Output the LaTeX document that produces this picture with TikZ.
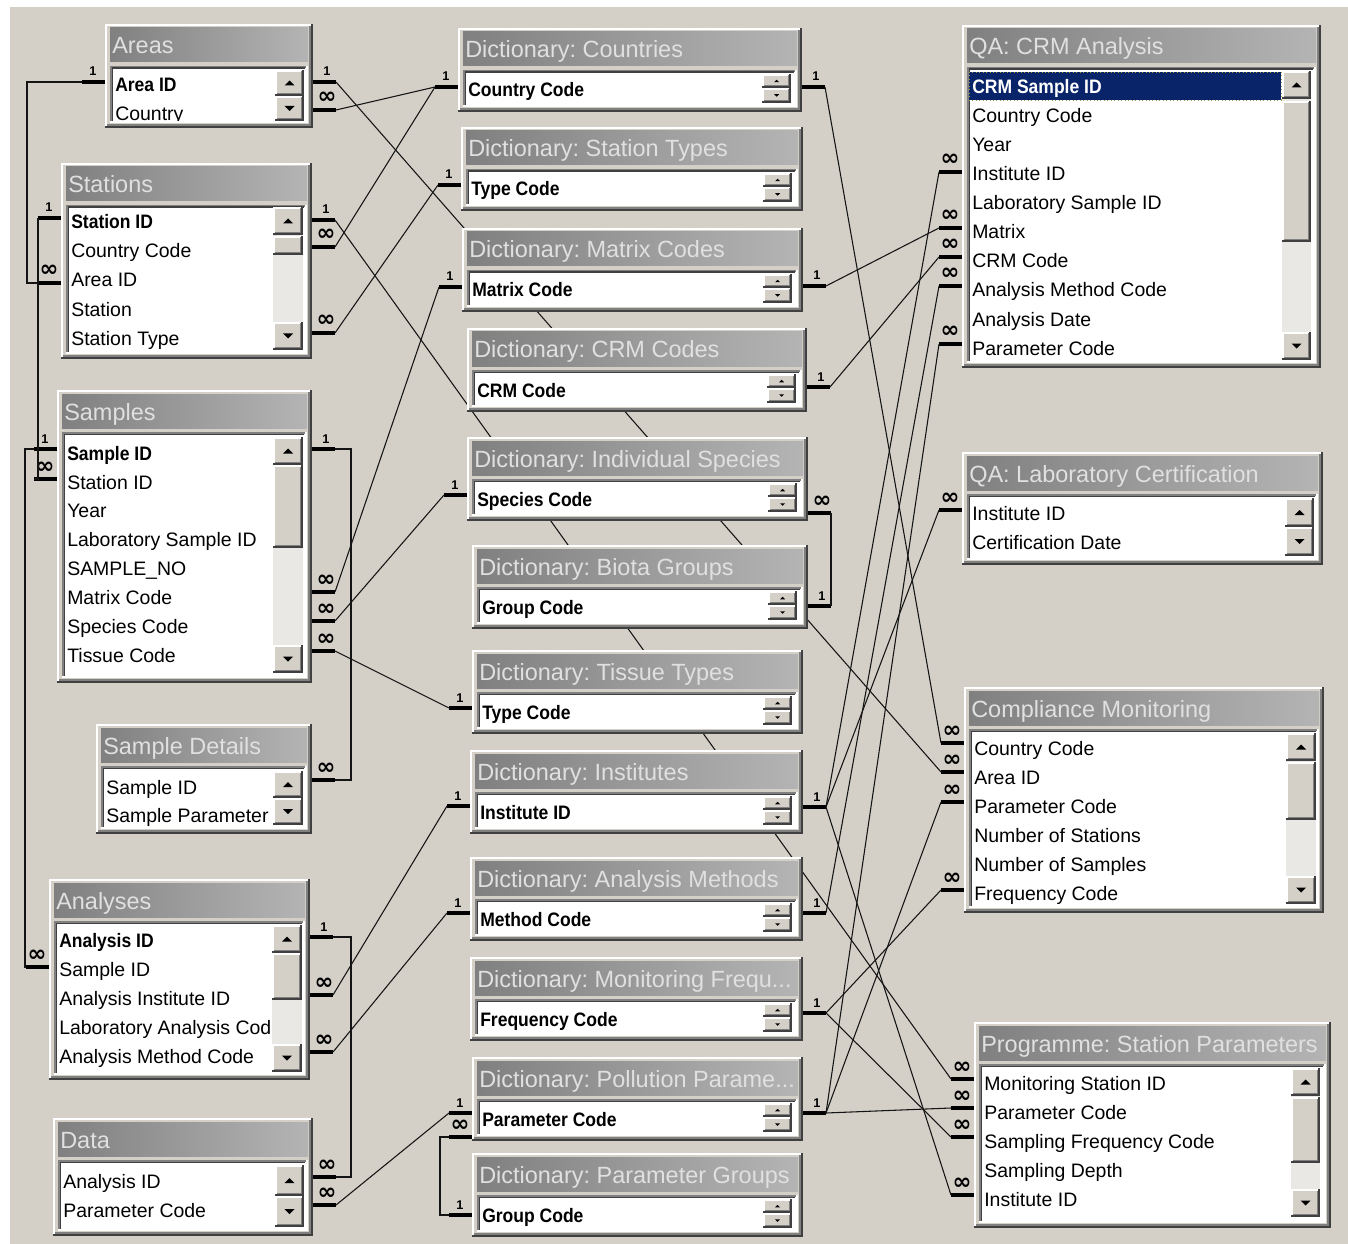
\documentclass[tikz,border=0pt]{standalone}
\usepackage{fontspec}
\setmainfont{Liberation Sans}
\newfontfamily\fbx[FakeStretch=0.9]{Liberation Sans}
\newfontfamily\symf{DejaVu Sans}
\frenchspacing
\definecolor{winbg}{RGB}{212,208,200}
\definecolor{trackc}{RGB}{234,232,228}
\definecolor{tbarL}{RGB}{128,128,128}
\definecolor{tbarR}{RGB}{180,180,180}
\definecolor{ttlc}{RGB}{224,224,224}
\definecolor{dk}{RGB}{64,64,64}
\definecolor{md}{RGB}{128,128,128}
\definecolor{navy}{RGB}{10,36,106}
\definecolor{linec}{RGB}{20,20,20}
\tikzset{
 fld/.style={anchor=base west, inner sep=0pt, font=\fontsize{14.6}{16}\selectfont},
 fldb/.style={anchor=base west, inner sep=0pt, font=\fbx\bfseries\fontsize{14.6}{16}\selectfont},
 ttl/.style={anchor=base west, inner sep=0pt, text=ttlc, font=\fontsize{17.6}{20}\selectfont},
 rel/.style={draw=linec, line width=0.8pt},
 stub/.style={draw=black, line width=2.6pt},
 one/.style={anchor=base, inner sep=0pt, font=\bfseries\fontsize{9.5}{10}\selectfont},
 many/.style={anchor=base, inner sep=0pt, font=\symf\bfseries\fontsize{17}{18}\selectfont},
}
% raised button
\newcommand\btn[4]{%
 \fill[winbg] ({#1},{#2}) rectangle ({#3},{#4});
 \draw[white,line width=1.2pt] ({#1+0.8},{#4-1}) -- ({#1+0.8},{#2+0.8}) -- ({#3-1},{#2+0.8});
 \draw[dk,line width=1.2pt] ({#1},{#4-0.8}) -- ({#3-0.8},{#4-0.8}) -- ({#3-0.8},{#2});
 \draw[md,line width=1.2pt] ({#1+1.5},{#4-2.4}) -- ({#3-2.4},{#4-2.4}) -- ({#3-2.4},{#2+1.5});
}
\newcommand\uparr[3]{\fill ({#1-#3},{#2+#3/2}) -- ({#1+#3},{#2+#3/2}) -- ({#1},{#2-#3/2}) -- cycle;}
\newcommand\dnarr[3]{\fill ({#1-#3},{#2-#3/2}) -- ({#1+#3},{#2-#3/2}) -- ({#1},{#2+#3/2}) -- cycle;}
% scrollbar with thumb: xl xr yt yb tt tb
\newcommand\sbar[6]{%
 \fill[trackc] ({#1},{#3}) rectangle ({#2},{#4});
 \btn{#1}{#3}{#2}{#3+28}\uparr{(#1+#2)/2}{#3+14}{5}
 \btn{#1}{#4-28}{#2}{#4}\dnarr{(#1+#2)/2}{#4-14}{5}
 \btn{#1}{#5}{#2}{#6}
}
% two-button scrollbar: xl xr yt ym yb
\newcommand\sbtwo[5]{%
 \btn{#1}{#3}{#2}{#4}\uparr{(#1+#2)/2}{(#3+#4)/2}{5}
 \btn{#1}{#4}{#2}{#5}\dnarr{(#1+#2)/2}{(#4+#5)/2}{5}
}
% table frame: name x0 y0 x1 y1 title
\newcommand\tframe[6]{%
 \fill[winbg] ({#2},{#3}) rectangle ({#4},{#5});
 \draw[white,line width=1.2pt] ({#2+0.8},{#5-1}) -- ({#2+0.8},{#3+0.8}) -- ({#4-1},{#3+0.8});
 \draw[dk,line width=1.5pt] ({#2},{#5-1}) -- ({#4-1},{#5-1}) -- ({#4-1},{#3});
 \draw[md,line width=1.2pt] ({#2+2},{#5-3}) -- ({#4-3},{#5-3}) -- ({#4-3},{#3+2});
 \shade[left color=tbarL,right color=tbarR] ({#2+5},{#3+4}) rectangle ({#4-5},{#3+38});
 \begin{scope}
  \clip ({#2+5},{#3+4}) rectangle ({#4-5},{#3+38});
  \node[ttl] (#1-t) at ({#2+7},{#3+30}) {#6};
 \end{scope}
 \fill[white] ({#2+5},{#3+42}) rectangle ({#4-7},{#5-6});
 \draw[md,line width=1.2pt] ({#2+5.8},{#5-6}) -- ({#2+5.8},{#3+42.8}) -- ({#4-7},{#3+42.8});
 \draw[dk,line width=1.2pt] ({#2+7.3},{#5-7}) -- ({#2+7.3},{#3+44.3}) -- ({#4-8},{#3+44.3});
 \draw[white,line width=1.2pt] ({#2+5},{#5-5.8}) -- ({#4-6.2},{#5-5.8}) -- ({#4-6.2},{#3+42});
}
\newcommand\lclip[4]{\clip ({#1+8},{#2+44}) rectangle ({#3-8},{#4-7});}
% dictionary table: name x0 y0 x1 title field
\newcommand\dict[6]{%
 \tframe{#1}{#2}{#3}{#4}{#3+84}{#5}
 \node[fldb] (#1-f) at ({#2+10},{#3+69}) {#6};
 \btn{#4-40}{#3+46}{#4-11}{#3+60}\uparr{#4-25.5}{#3+53}{2.5}
 \btn{#4-40}{#3+60}{#4-11}{#3+75}\dnarr{#4-25.5}{#3+67.5}{2.5}
}
% stubs: name x y labelstyle label
\newcommand\stR[5]{%
 \draw[stub] ({#2},{#3}) -- ({#2+23},{#3});
 \coordinate (#1) at ({#2+23},{#3});
 \node[#4] (#1-l) at ({#2+14},{#3-6}) {#5};
}
\newcommand\stL[5]{%
 \draw[stub] ({#2},{#3}) -- ({#2-23},{#3});
 \coordinate (#1) at ({#2-23},{#3});
 \node[#4] (#1-l) at ({#2-12},{#3-6}) {#5};
}
\begin{document}
\begin{tikzpicture}[x=0.75pt,y=-0.75pt]
\useasboundingbox (0,0) rectangle (1348,1244);
\fill[white] (0,0) rectangle (1348,1244);
\fill[winbg] (10,7) rectangle (1348,1244);

% ---------- stubs ----------
\stL{a-id-L}{105}{82}{one}{1}
\stR{a-id-R}{313}{82}{one}{1}
\stR{a-co-R}{313}{110}{many}{∞}
\stL{s-id-L}{61}{218}{one}{1}
\stL{s-ar-L}{61}{283}{many}{∞}
\stR{s-id-R}{312}{220}{one}{1}
\stR{s-co-R}{312}{247}{many}{∞}
\stR{s-ty-R}{312}{333}{many}{∞}
\stL{sa-id-L}{57}{449}{one}{1}
\stL{sa-st-L}{57}{479}{many}{∞}
\stR{sa-id-R}{312}{449}{one}{1}
\stR{sa-mx-R}{312}{592}{many}{∞}
\stR{sa-sp-R}{312}{621}{many}{∞}
\stR{sa-ti-R}{312}{651}{many}{∞}
\stR{sd-id-R}{312}{780}{many}{∞}
\stL{an-sid-L}{49}{967}{many}{∞}
\stR{an-id-R}{310}{937}{one}{1}
\stR{an-in-R}{310}{995}{many}{∞}
\stR{an-me-R}{310}{1052}{many}{∞}
\stR{da-id-R}{313}{1177}{many}{∞}
\stR{da-pa-R}{313}{1205}{many}{∞}

\stL{co-L}{458}{87}{one}{1}
\stL{st-L}{461}{185}{one}{1}
\stL{mx-L}{462}{287}{one}{1}
\stL{sp-L}{467}{495}{one}{1}
\stL{ti-L}{472}{708}{one}{1}
\stL{in-L}{470}{806}{one}{1}
\stL{me-L}{470}{913}{one}{1}
\stL{po-L1}{472}{1113}{one}{1}
\stL{po-L2}{472}{1137}{many}{∞}
\stL{gr-L}{472}{1215}{one}{1}
\stR{co-R}{802}{87}{one}{1}
\stR{mx-R}{803}{286}{one}{1}
\stR{cr-R}{807}{387}{one}{1}
\stR{sp-R}{808}{513}{many}{∞}
\stR{bi-R}{808}{606}{one}{1}
\stR{in-R}{803}{807}{one}{1}
\stR{me-R}{803}{913}{one}{1}
\stR{mf-R}{803}{1013}{one}{1}
\stR{po-R}{803}{1113}{one}{1}

\stL{qc-in-L}{962}{172}{many}{∞}
\stL{qc-mx-L}{962}{228}{many}{∞}
\stL{qc-cr-L}{962}{257}{many}{∞}
\stL{qc-me-L}{962}{286}{many}{∞}
\stL{qc-pa-L}{962}{344}{many}{∞}
\stL{ql-in-L}{962}{510}{many}{∞}
\stL{cm-co-L}{964}{743}{many}{∞}
\stL{cm-ar-L}{964}{772}{many}{∞}
\stL{cm-pa-L}{964}{802}{many}{∞}
\stL{cm-fr-L}{964}{890}{many}{∞}
\stL{pr-st-L}{974}{1079}{many}{∞}
\stL{pr-pa-L}{974}{1108}{many}{∞}
\stL{pr-fr-L}{974}{1137}{many}{∞}
\stL{pr-in-L}{974}{1195}{many}{∞}

% ---------- connectors ----------
\draw[rel] (a-id-L) -- ++(-55,0) |- (s-ar-L);
\draw[rel] (s-id-L) |- (sa-st-L);
\draw[rel] (sa-id-L) -- ++(-9,0) |- (an-sid-L);
\draw[rel] (sa-id-R) -- ++(16,0) |- (sd-id-R);
\draw[rel] (an-id-R) -- ++(18,0) |- (da-id-R);
\draw[rel] (po-L2) -- ++(-9,0) |- (gr-L);
\draw[rel] (sp-R) -- (bi-R);
\draw[rel] (a-id-R) -- (cm-ar-L);
\draw[rel] (a-co-R) -- (co-L);
\draw[rel] (s-id-R) -- (pr-st-L);
\draw[rel] (s-co-R) -- (co-L);
\draw[rel] (s-ty-R) -- (st-L);
\draw[rel] (sa-mx-R) -- (mx-L);
\draw[rel] (sa-sp-R) -- (sp-L);
\draw[rel] (sa-ti-R) -- (ti-L);
\draw[rel] (an-in-R) -- (in-L);
\draw[rel] (an-me-R) -- (me-L);
\draw[rel] (da-pa-R) -- (po-L1);
\draw[rel] (co-R) -- (cm-co-L);
\draw[rel] (mx-R) -- (qc-mx-L);
\draw[rel] (cr-R) -- (qc-cr-L);
\draw[rel] (in-R) -- (qc-in-L);
\draw[rel] (in-R) -- (ql-in-L);
\draw[rel] (in-R) -- (pr-in-L);
\draw[rel] (me-R) -- (qc-me-L);
\draw[rel] (mf-R) -- (cm-fr-L);
\draw[rel] (mf-R) -- (pr-fr-L);
\draw[rel] (po-R) -- (qc-pa-L);
\draw[rel] (po-R) -- (cm-pa-L);
\draw[rel] (po-R) -- (pr-pa-L);

% ---------- left column tables ----------
\tframe{areas}{105}{24}{313}{128}{Areas}
\begin{scope}\lclip{105}{24}{313}{128}
 \node[fldb] (areas-1) at (115,92) {Area ID};
 \node[fld] (areas-2) at (115,121) {Country};
\end{scope}
\sbtwo{275}{304}{70}{96}{121}

\tframe{stations}{61}{163}{312}{359}{Stations}
\begin{scope}\lclip{61}{163}{312}{359}
 \node[fldb] (stations-1) at (71,229) {Station ID};
 \node[fld] (stations-2) at (71,258) {Country Code};
 \node[fld] (stations-3) at (71,287) {Area ID};
 \node[fld] (stations-4) at (71,316) {Station};
 \node[fld] (stations-5) at (71,345) {Station Type};
\end{scope}
\sbar{273}{303}{207}{350}{236}{255}

\tframe{samples}{57}{390}{312}{683}{Samples}
\begin{scope}\lclip{57}{390}{312}{683}
 \node[fldb] (samples-1) at (67,460) {Sample ID};
 \node[fld] (samples-2) at (67,489) {Station ID};
 \node[fld] (samples-3) at (67,517) {Year};
 \node[fld] (samples-4) at (67,546) {Laboratory Sample ID};
 \node[fld] (samples-5) at (67,575) {SAMPLE\_NO};
 \node[fld] (samples-6) at (67,604) {Matrix Code};
 \node[fld] (samples-7) at (67,633) {Species Code};
 \node[fld] (samples-8) at (67,662) {Tissue Code};
\end{scope}
\sbar{273}{303}{437}{673}{465}{548}

\tframe{sdet}{96}{724}{312}{834}{Sample Details}
\begin{scope}\lclip{96}{724}{312}{834}
 \node[fld] (sdet-1) at (106,794) {Sample ID};
 \node[fld] (sdet-2) at (106,822) {Sample Parameter};
\end{scope}
\sbtwo{273}{303}{771}{798}{825}

\tframe{anal}{49}{879}{310}{1080}{Analyses}
\begin{scope}\lclip{49}{879}{310}{1080}
 \node[fldb] (anal-1) at (59,947) {Analysis ID};
 \node[fld] (anal-2) at (59,976) {Sample ID};
 \node[fld] (anal-3) at (59,1005) {Analysis Institute ID};
 \node[fld] (anal-4) at (59,1034) {Laboratory Analysis Code};
 \node[fld] (anal-5) at (59,1063) {Analysis Method Code};
\end{scope}
\sbar{272}{302}{925}{1072}{953}{1000}

\tframe{data}{53}{1118}{313}{1236}{Data}
\begin{scope}\lclip{53}{1118}{313}{1236}
 \node[fld] (data-1) at (63,1188) {Analysis ID};
 \node[fld] (data-2) at (63,1217) {Parameter Code};
\end{scope}
\sbtwo{275}{304}{1165}{1196}{1227}

% ---------- dictionaries ----------
\dict{dco}{458}{28}{802}{Dictionary: Countries}{Country Code}
\dict{dst}{461}{127}{803}{Dictionary: Station Types}{Type Code}
\dict{dmx}{462}{228}{803}{Dictionary: Matrix Codes}{Matrix Code}
\dict{dcr}{467}{328}{807}{Dictionary: CRM Codes}{CRM Code}
\dict{dsp}{467}{437}{808}{Dictionary: Individual Species}{Species Code}
\dict{dbi}{472}{545}{808}{Dictionary: Biota Groups}{Group Code}
\dict{dti}{472}{650}{803}{Dictionary: Tissue Types}{Type Code}
\dict{din}{470}{750}{803}{Dictionary: Institutes}{Institute ID}
\dict{dme}{470}{857}{803}{Dictionary: Analysis Methods}{Method Code}
\dict{dmf}{470}{957}{803}{Dictionary: Monitoring Frequ...}{Frequency Code}
\dict{dpo}{472}{1057}{803}{Dictionary: Pollution Parame...}{Parameter Code}
\dict{dgr}{472}{1153}{803}{Dictionary: Parameter Groups}{Group Code}

% ---------- right column ----------
\tframe{qcrm}{962}{25}{1321}{368}{QA: CRM Analysis}
\fill[navy] (969,72) rectangle (1281,100);
\draw[yellow!60!black,dotted,line width=0.6pt] (969,72) rectangle (1281,100);
\begin{scope}\lclip{962}{25}{1321}{368}
 \node[fldb,text=white] (qcrm-1) at (972,94) {CRM Sample ID};
 \node[fld] (qcrm-2) at (972,123) {Country Code};
 \node[fld] (qcrm-3) at (972,152) {Year};
 \node[fld] (qcrm-4) at (972,181) {Institute ID};
 \node[fld] (qcrm-5) at (972,210) {Laboratory Sample ID};
 \node[fld] (qcrm-6) at (972,239) {Matrix};
 \node[fld] (qcrm-7) at (972,268) {CRM Code};
 \node[fld] (qcrm-8) at (972,297) {Analysis Method Code};
 \node[fld] (qcrm-9) at (972,326) {Analysis Date};
 \node[fld] (qcrm-10) at (972,355) {Parameter Code};
\end{scope}
\sbar{1282}{1311}{71}{360}{101}{242}

\tframe{qlab}{962}{452}{1323}{565}{QA: Laboratory Certification}
\begin{scope}\lclip{962}{452}{1323}{565}
 \node[fld] (qlab-1) at (972,520) {Institute ID};
 \node[fld] (qlab-2) at (972,549) {Certification Date};
\end{scope}
\sbtwo{1285}{1314}{498}{527}{556}

\tframe{comp}{964}{687}{1324}{913}{Compliance Monitoring}
\begin{scope}\lclip{964}{687}{1324}{913}
 \node[fld] (comp-1) at (974,755) {Country Code};
 \node[fld] (comp-2) at (974,784) {Area ID};
 \node[fld] (comp-3) at (974,813) {Parameter Code};
 \node[fld] (comp-4) at (974,842) {Number of Stations};
 \node[fld] (comp-5) at (974,871) {Number of Samples};
 \node[fld] (comp-6) at (974,900) {Frequency Code};
\end{scope}
\sbar{1286}{1316}{733}{904}{762}{820}

\tframe{prog}{974}{1022}{1331}{1228}{Programme: Station Parameters}
\begin{scope}\lclip{974}{1022}{1331}{1228}
 \node[fld] (prog-1) at (984,1090) {Monitoring Station ID};
 \node[fld] (prog-2) at (984,1119) {Parameter Code};
 \node[fld] (prog-3) at (984,1148) {Sampling Frequency Code};
 \node[fld] (prog-4) at (984,1177) {Sampling Depth};
 \node[fld] (prog-5) at (984,1206) {Institute ID};
\end{scope}
\sbar{1291}{1320}{1068}{1217}{1097}{1163}
\end{tikzpicture}
\end{document}
